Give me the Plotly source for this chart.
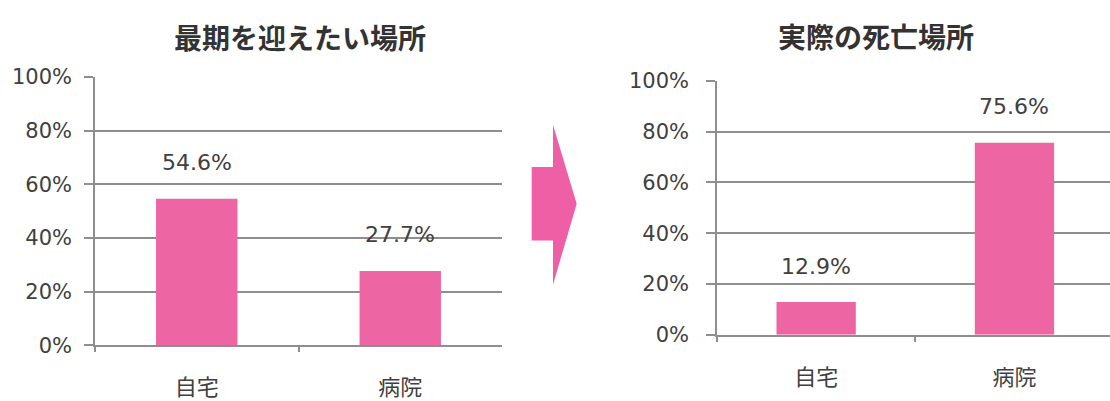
import plotly.graph_objects as go

# Survey: preferred place to spend final days vs. actual place of death
categories = ["自宅", "病院"]
preferred_pct = [54.6, 27.7]
actual_pct = [12.9, 75.6]
titles = ["最期を迎えたい場所", "実際の死亡場所"]
y_tick_vals = [0, 20, 40, 60, 80, 100]
y_tick_text = ["0%", "20%", "40%", "60%", "80%", "100%"]

W, H = 1110, 401
BAR = "#EE65A3"
ARROW = "#EE5FA6"
GRID = "#8E8E8E"
TXT = "#404040"
LATIN = "DejaVu Sans, Noto Sans CJK JP, sans-serif"
CJK = "Noto Sans CJK JP, sans-serif"

fig = go.Figure()
fig.add_trace(go.Bar(x=categories, y=preferred_pct, width=0.4, marker_color=BAR,
                     marker_line_width=0, xaxis="x", yaxis="y", hoverinfo="skip"))
fig.add_trace(go.Bar(x=categories, y=actual_pct, width=0.4, marker_color=BAR,
                     marker_line_width=0, xaxis="x2", yaxis="y2", hoverinfo="skip"))


def px_x(v):
    return v / W


def px_y(v):
    return 1 - v / H


yaxis_common = dict(range=[0, 100], tickvals=y_tick_vals, ticktext=y_tick_text,
                    showgrid=True, gridcolor=GRID, gridwidth=1.5,
                    showline=True, linecolor=GRID, linewidth=1.5,
                    ticks="outside", ticklen=9, tickcolor=GRID, tickwidth=1.5,
                    tickfont=dict(family=LATIN, size=21, color=TXT),
                    zeroline=False, fixedrange=True)
xaxis_common = dict(type="category", showgrid=False, showline=True, linecolor=GRID,
                    linewidth=1.5, ticks="outside", tickson="boundaries", ticklen=5,
                    tickcolor=GRID, tickwidth=1.5,
                    tickfont=dict(family=CJK, size=22, color=TXT), fixedrange=True)

fig.update_layout(
    width=W, height=H, margin=dict(l=0, r=0, t=0, b=0),
    paper_bgcolor="white", plot_bgcolor="white", showlegend=False,
    xaxis=dict(xaxis_common, domain=[px_x(95), px_x(502)], range=[-0.5, 1.5],
               anchor="y", ticklabelstandoff=22),
    yaxis=dict(yaxis_common, domain=[px_y(354.5), px_y(69)], anchor="x",
               ticklabelstandoff=8),
    xaxis2=dict(xaxis_common, domain=[px_x(717), 1.0],
                range=[-0.5, -0.5 + (W - 717) / 198.3], anchor="y2",
                ticklabelstandoff=22),
    yaxis2=dict(yaxis_common, domain=[px_y(343.3), px_y(73.3)], anchor="x2",
                ticklabelstandoff=13),
)

# value labels above each bar
annotations = []
for xa, ya, vals in (("x", "y", preferred_pct), ("x2", "y2", actual_pct)):
    for cat, v in zip(categories, vals):
        annotations.append(dict(x=cat, y=v, xref=xa, yref=ya, text=f"{v:.1f}%",
                                showarrow=False, yshift=36,
                                xanchor="center", yanchor="middle",
                                font=dict(family=LATIN, size=22, color=TXT)))

# chart titles
for cx, cy, title in ((300, 27, titles[0]), (875.5, 26, titles[1])):
    annotations.append(dict(x=px_x(cx), y=px_y(cy), xref="paper", yref="paper",
                            text=f"<b>{title}</b>", showarrow=False,
                            xanchor="center", yanchor="middle",
                            font=dict(family=CJK, size=28, color="#333333")))
fig.update_layout(annotations=annotations)

# block arrow between the two charts
pts = [(531.7, 165), (553, 165), (553, 120), (576.7, 204),
       (553, 290), (553, 243), (531.7, 243)]
path = "M " + " L ".join(f"{px_x(a):.5f},{px_y(b):.5f}" for a, b in pts) + " Z"
fig.add_shape(type="path", xref="paper", yref="paper", path=path,
              fillcolor=ARROW, line=dict(width=0))

fig.write_html("out.html")
